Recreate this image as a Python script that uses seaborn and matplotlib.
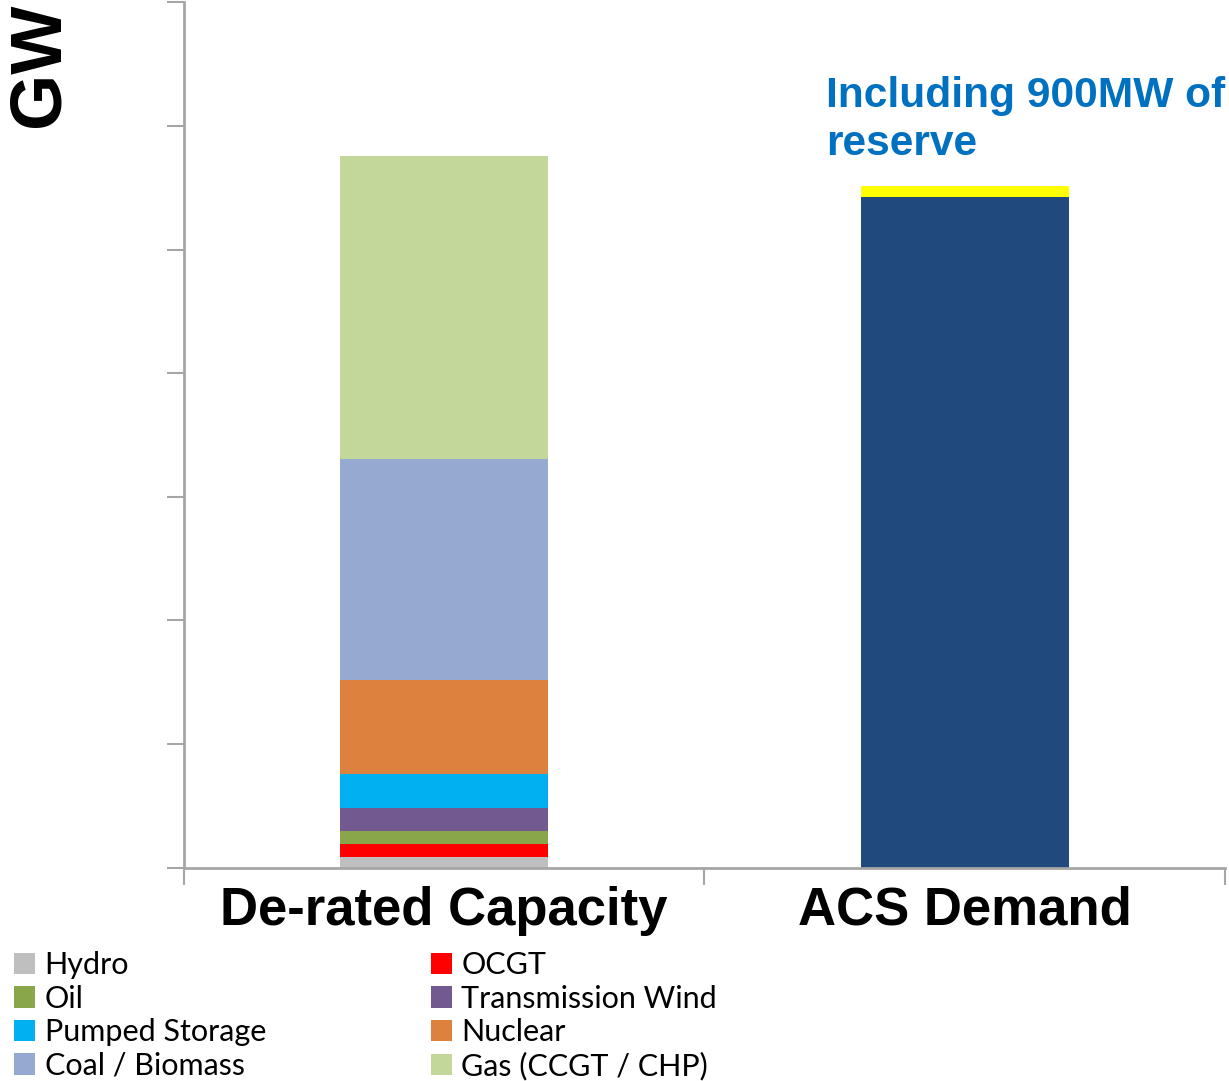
import numpy as np
import pandas as pd
import matplotlib
matplotlib.use("Agg")
import matplotlib.pyplot as plt
from matplotlib.patches import Patch
import seaborn as sns

# De-rated generation capacity by fuel type (GW), stacked bottom to top
fuels = ["Hydro", "OCGT", "Oil", "Transmission Wind", "Pumped Storage",
         "Nuclear", "Coal / Biomass", "Gas (CCGT / CHP)"]
capacity_gw = [0.87, 1.05, 1.05, 1.86, 2.78, 7.58, 17.88, 24.5]
fuel_colors = ["#BFBFBF", "#FF0000", "#8AA64B", "#72598F", "#00B0F0",
               "#DC823E", "#95A9D1", "#C4D79B"]

# ACS demand and the reserve held on top of it (GW)
demand_gw = 54.26
reserve_gw = 0.9
demand_color = "#204A7D"
reserve_color = "#FFFF00"

categories = ["De-rated Capacity", "ACS Demand"]
legend_order = ["Hydro", "Oil", "Pumped Storage", "Coal / Biomass",
                "OCGT", "Transmission Wind", "Nuclear", "Gas (CCGT / CHP)"]

sns.set_theme(style="white")
plt.rcParams["font.family"] = ["Liberation Sans", "DejaVu Sans"]

fig = plt.figure(figsize=(12.29, 10.81), dpi=100)
ax = fig.add_axes([0.1495, 0.1973, 0.8472, 0.8006])

bar_w = 0.40
order = categories

# Stacked capacity column: draw cumulative totals from the top down
cum = np.cumsum(capacity_gw)
for i in range(len(fuels) - 1, -1, -1):
    df = pd.DataFrame({"cat": [categories[0]], "val": [cum[i]]})
    sns.barplot(data=df, x="cat", y="val", order=order, color=fuel_colors[i],
                width=bar_w, errorbar=None, saturation=1, linewidth=0, ax=ax)

# Demand column with reserve on top
df = pd.DataFrame({"cat": [categories[1]], "val": [demand_gw + reserve_gw]})
sns.barplot(data=df, x="cat", y="val", order=order, color=reserve_color,
            width=bar_w, errorbar=None, saturation=1, linewidth=0, ax=ax)
df = pd.DataFrame({"cat": [categories[1]], "val": [demand_gw]})
sns.barplot(data=df, x="cat", y="val", order=order, color=demand_color,
            width=bar_w, errorbar=None, saturation=1, linewidth=0, ax=ax)

ax.set_xlim(-0.5, 1.5)
ax.set_ylim(0, 70)
ax.set_yticks(np.arange(0, 71, 10))
ax.set_yticklabels([])
ax.set_xlabel("")
ax.set_ylabel("")

# Category labels without tick marks; boundary ticks between categories
ax.set_xticks([0, 1])
ax.set_xticklabels(categories, fontsize=38, fontweight="bold", color="black")
ax.tick_params(axis="x", which="major", length=0, pad=13)
ax.set_xticks([-0.5, 0.5, 1.5], minor=True)
ax.tick_params(axis="x", which="minor", direction="out", length=12,
               width=1.5, color="#A6A6A6", bottom=True)
ax.tick_params(axis="y", which="major", direction="out", length=12,
               width=1.5, color="#A6A6A6", left=True)

for side in ["top", "right"]:
    ax.spines[side].set_visible(False)
for side in ["left", "bottom"]:
    ax.spines[side].set_color("#A6A6A6")
    ax.spines[side].set_linewidth(2)

# Axis unit label
fig.text(0.032, 0.998, "GW", rotation=90, fontsize=52, fontweight="bold",
         color="black", ha="center", va="top")

# Reserve note
fig.text(826 / 1229, 1 - 76 / 1081, "Including 900MW of\nreserve",
         fontsize=30.6, fontweight="bold", color="#0070C0",
         ha="left", va="top", linespacing=1.25)

# Legend
color_map = dict(zip(fuels, fuel_colors))
handles = [Patch(facecolor=color_map[f], edgecolor="none", label=f)
           for f in legend_order]
leg = fig.legend(handles=handles, ncol=2, loc="upper left",
                 bbox_to_anchor=(14 / 1229, 1 - 951 / 1081), frameon=False,
                 prop={"family": ["Lato", "DejaVu Sans"], "size": 22},
                 handlelength=0.7, handleheight=0.7, handletextpad=0.3,
                 labelspacing=0.18, columnspacing=5.4,
                 borderaxespad=0, borderpad=0)
for t in leg.get_texts():
    t.set_color("black")

fig.savefig("out.png", dpi=100, facecolor="white")
